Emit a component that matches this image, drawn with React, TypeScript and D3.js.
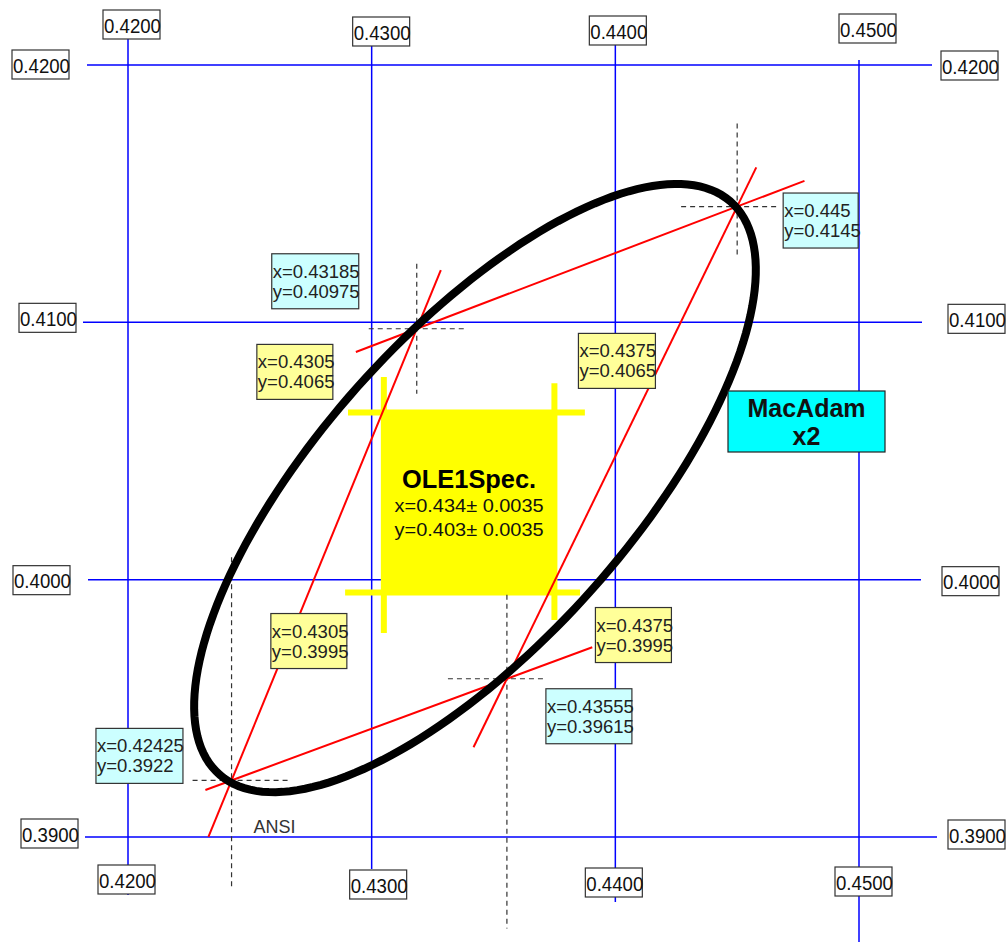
import React from "react";
import * as d3 from "d3";

// ---------- data ----------
const xTicks = [0.42, 0.43, 0.44, 0.45];
const yTicks = [0.42, 0.41, 0.4, 0.39];

// ANSI quadrangle corners: TR, TL, BL, BR
const cornerX = [0.445, 0.43185, 0.42425, 0.43555];
const cornerY = [0.4145, 0.40975, 0.3922, 0.39615];

// sides as [fromCorner, toCorner, tStart, tEnd] (extended beyond corners)
const sideFrom = [2, 1, 0, 3];
const sideTo = [1, 0, 3, 2];
const sideTStart = [-0.125, -0.19, -0.083, -0.31];
const sideTEnd = [1.13, 1.21, 1.145, 1.095];

// crosshair arm lengths (data units): left, right, up, down
const crossLeft = [0.0023, 0.00197, 0.0016, 0.00242];
const crossRight = [0.00168, 0.00201, 0.00238, 0.00156];
const crossUp = [0.00323, 0.00253, 0.00867, 0.00326];
const crossDown = [0.00202, 0.00253, 0.00427, 0.00971];

// OLE1 spec
const specTitle = "OLE1Spec.";
const specX = 0.434;
const specY = 0.403;
const specTol = 0.0035;
// spec crop marks extension (data units)
const specTopExt = [0.00147, 0.00125];
const specBottomExt = [0.00159, 0.00105];
const specLeftExt = [0.00138, 0.00157];
const specRightExt = [0.00113, 0.00107];

// MacAdam x2 ellipse (data units)
const ellipseCx = 0.43424;
const ellipseCy = 0.40356;
const ellipseA = 0.0153;
const ellipseB = 0.0062;
const ellipseAngleDeg = 46;

const macAdamLines = ["MacAdam", "x2"];
const ansiLabel = "ANSI";

// ---------- layout (px) ----------
const W = 1008;
const H = 942;
const vGridExt = [[39, 895], [45, 869], [44, 902], [60, 942]];
const hGridExt = [[87, 932], [83, 922], [88, 921], [85, 937]];
const topLabDx = [-25, -19, -26, -20];
const topLabY = [10, 17, 16, 14];
const botLabDx = [-30, -22, -30, -24];
const botLabY = [865, 870, 868, 867];
const leftLabX = [12, 19, 13, 21];
const leftLabDy = [-15, -19, -14, -18];
const rightLabX = [941, 948, 942, 948];
const rightLabDy = [-14, -18, -13, -17];
const tickBoxW = 57;
const tickBoxH = 29;

// corner label offsets [dx, dy, width]
const cornerLab = [[46, -13.5, 75], [-145, -75, 87], [-135.6, -52, 87], [39, 10, 86]];
// spec corner label offsets: TL, TR, BL, BR
const specLab = [[-127, -68, 76], [24, -79, 77], [-113, 21, 76], [41, 15, 76]];
const labH = 55;

const FONT = "'Liberation Sans', Arial, Helvetica, sans-serif";

export default function App() {
  const x = d3.scaleLinear().domain([0.42, 0.45]).range([128, 859]);
  const y = d3.scaleLinear().domain([0.39, 0.42]).range([837, 65]);
  const fmt = d3.format(".4f");

  // ellipse path
  const th = (ellipseAngleDeg * Math.PI) / 180;
  const pts: [number, number][] = d3.range(0, 361, 2).map((deg) => {
    const p = (deg * Math.PI) / 180;
    const ex = ellipseA * Math.cos(p);
    const ey = ellipseB * Math.sin(p);
    return [
      ellipseCx + ex * Math.cos(th) - ey * Math.sin(th),
      ellipseCy + ex * Math.sin(th) + ey * Math.cos(th),
    ];
  });
  const ellipsePath = d3
    .line<[number, number]>()
    .x((d) => x(d[0]))
    .y((d) => y(d[1]))
    .curve(d3.curveLinearClosed)(pts) as string;

  const sx0 = specX - specTol;
  const sx1 = specX + specTol;
  const sy0 = specY - specTol;
  const sy1 = specY + specTol;
  const specCorners = [
    [sx0, sy1],
    [sx1, sy1],
    [sx0, sy0],
    [sx1, sy0],
  ];
  const fmtVal = (v: number) => String(+v.toFixed(5));

  const tickBox = (key: string, bx: number, by: number, label: string) => (
    <g key={key}>
      <rect x={bx} y={by} width={tickBoxW} height={tickBoxH} fill="#fff" stroke="#333" strokeWidth={1.2} />
      <text
        x={bx + 1}
        y={by + 22.5}
        fontSize={19.5}
        fontFamily={FONT}
        fill="#111"
        textLength={tickBoxW}
        lengthAdjust="spacingAndGlyphs"
      >
        {label}
      </text>
    </g>
  );

  const valueBox = (key: string, bx: number, by: number, w: number, fill: string, l1: string, l2: string) => (
    <g key={key}>
      <rect x={bx} y={by} width={w} height={labH} fill={fill} stroke="#333" strokeWidth={1.2} />
      <text x={bx + 1} y={by + 24} fontSize={18.5} fontFamily={FONT} fill="#222">
        {l1}
      </text>
      <text x={bx + 1} y={by + 44} fontSize={18.5} fontFamily={FONT} fill="#222">
        {l2}
      </text>
    </g>
  );

  const yellowW = 6;
  const scx = (x(sx0) + x(sx1)) / 2;

  return (
    <svg
      width={W}
      height={H}
      style={{ position: "absolute", left: 0, top: 0, background: "#fff" }}
    >
      <rect x={0} y={0} width={W} height={H} fill="#fff" />
      {/* grid */}
      {xTicks.map((t, i) => (
        <line key={"vx" + i} x1={x(t)} x2={x(t)} y1={vGridExt[i][0]} y2={vGridExt[i][1]} stroke="#0000ff" strokeWidth={1.5} />
      ))}
      {yTicks.map((t, i) => (
        <line key={"hy" + i} y1={y(t)} y2={y(t)} x1={hGridExt[i][0]} x2={hGridExt[i][1]} stroke="#0000ff" strokeWidth={1.5} />
      ))}
      {/* tick labels */}
      {xTicks.map((t, i) => tickBox("tt" + i, x(t) + topLabDx[i], topLabY[i], fmt(t)))}
      {xTicks.map((t, i) => tickBox("tb" + i, x(t) + botLabDx[i], botLabY[i], fmt(t)))}
      {yTicks.map((t, i) => tickBox("tl" + i, leftLabX[i], y(t) + leftLabDy[i], fmt(t)))}
      {yTicks.map((t, i) => tickBox("tr" + i, rightLabX[i], y(t) + rightLabDy[i], fmt(t)))}

      {/* spec square */}
      <rect x={x(sx0)} y={y(sy1)} width={x(sx1) - x(sx0)} height={y(sy0) - y(sy1)} fill="#ffff00" />
      <line x1={x(sx0 - specTopExt[0])} x2={x(sx1 + specTopExt[1])} y1={y(sy1)} y2={y(sy1)} stroke="#ffff00" strokeWidth={yellowW} />
      <line x1={x(sx0 - specBottomExt[0])} x2={x(sx1 + specBottomExt[1])} y1={y(sy0)} y2={y(sy0)} stroke="#ffff00" strokeWidth={yellowW} />
      <line x1={x(sx0)} x2={x(sx0)} y1={y(sy1 + specLeftExt[0])} y2={y(sy0 - specLeftExt[1])} stroke="#ffff00" strokeWidth={yellowW} />
      <line x1={x(sx1)} x2={x(sx1)} y1={y(sy1 + specRightExt[0])} y2={y(sy0 - specRightExt[1])} stroke="#ffff00" strokeWidth={yellowW} />
      <text x={scx} y={y(specY) - 14} textAnchor="middle" fontSize={25} fontWeight="bold" fontFamily={FONT} fill="#000" textLength={134} lengthAdjust="spacingAndGlyphs">
        {specTitle}
      </text>
      <text x={scx} y={y(specY) + 10} textAnchor="middle" fontSize={19} fontFamily={FONT} fill="#111" textLength={149} lengthAdjust="spacingAndGlyphs">
        {`x=${specX}\u00b1 ${specTol}`}
      </text>
      <text x={scx} y={y(specY) + 34} textAnchor="middle" fontSize={19} fontFamily={FONT} fill="#111" textLength={149} lengthAdjust="spacingAndGlyphs">
        {`y=${specY}\u00b1 ${specTol}`}
      </text>

      {/* crosshairs */}
      {cornerX.map((cx, i) => (
        <g key={"ch" + i} stroke="#333" strokeWidth={1.2} strokeDasharray="5,4">
          <line x1={x(cx - crossLeft[i])} x2={x(cx + crossRight[i])} y1={y(cornerY[i])} y2={y(cornerY[i])} />
          <line x1={x(cx)} x2={x(cx)} y1={y(cornerY[i] + crossUp[i])} y2={y(cornerY[i] - crossDown[i])} />
        </g>
      ))}

      {/* quadrangle sides */}
      {sideFrom.map((f, i) => {
        const t = sideTo[i];
        const dx = cornerX[t] - cornerX[f];
        const dy = cornerY[t] - cornerY[f];
        return (
          <line
            key={"side" + i}
            x1={x(cornerX[f] + dx * sideTStart[i])}
            y1={y(cornerY[f] + dy * sideTStart[i])}
            x2={x(cornerX[f] + dx * sideTEnd[i])}
            y2={y(cornerY[f] + dy * sideTEnd[i])}
            stroke="#ff0000"
            strokeWidth={2}
          />
        );
      })}

      {/* ellipse */}
      <path d={ellipsePath} fill="none" stroke="#000" strokeWidth={8} />

      {/* corner labels */}
      {cornerX.map((cx, i) =>
        valueBox(
          "cl" + i,
          x(cx) + cornerLab[i][0],
          y(cornerY[i]) + cornerLab[i][1],
          cornerLab[i][2],
          "#ccffff",
          `x=${fmtVal(cx)}`,
          `y=${fmtVal(cornerY[i])}`
        )
      )}
      {specCorners.map((c, i) =>
        valueBox(
          "sl" + i,
          x(c[0]) + specLab[i][0],
          y(c[1]) + specLab[i][1],
          specLab[i][2],
          "#ffff99",
          `x=${fmtVal(c[0])}`,
          `y=${fmtVal(c[1])}`
        )
      )}

      {/* MacAdam box */}
      <g>
        <rect x={728} y={391} width={157} height={61} fill="#00ffff" stroke="#222" strokeWidth={1.2} />
        <text x={806.5} y={417} textAnchor="middle" fontSize={25} fontWeight="bold" fontFamily={FONT} fill="#111">
          {macAdamLines[0]}
        </text>
        <text x={806.5} y={445} textAnchor="middle" fontSize={25} fontWeight="bold" fontFamily={FONT} fill="#111">
          {macAdamLines[1]}
        </text>
      </g>

      {/* ANSI */}
      <text x={x(cornerX[2]) + 22} y={833} fontSize={18} fontFamily={FONT} fill="#333">
        {ansiLabel}
      </text>
    </svg>
  );
}
